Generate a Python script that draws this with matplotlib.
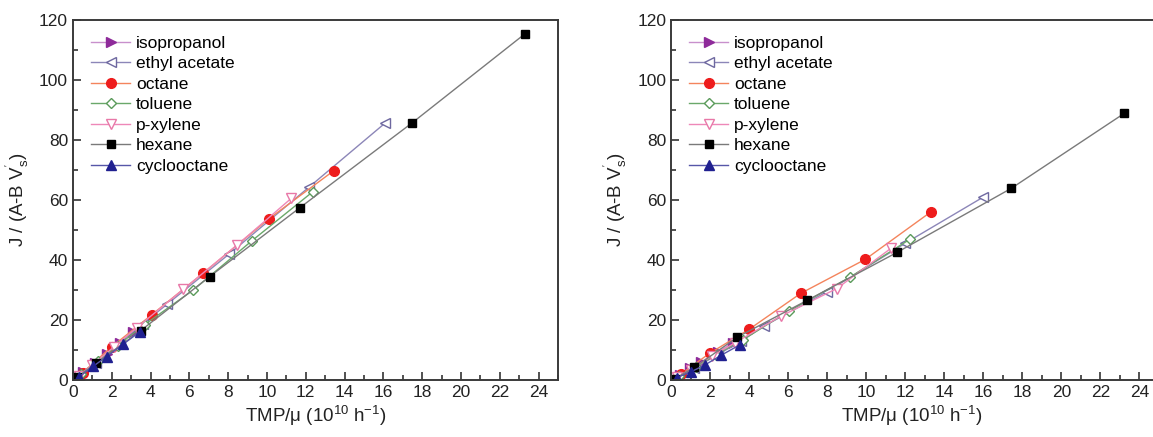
import matplotlib
matplotlib.use("Agg")
import matplotlib.pyplot as plt
from matplotlib.ticker import MultipleLocator

plt.rcParams['font.family'] = ['Liberation Sans', 'DejaVu Sans']
plt.rcParams['mathtext.fontset'] = 'custom'
plt.rcParams['mathtext.rm'] = 'Liberation Sans'
plt.rcParams['mathtext.it'] = 'Liberation Sans'

names = ['isopropanol', 'ethyl acetate', 'octane', 'toluene', 'p-xylene', 'hexane', 'cyclooctane']

# left panel
iso_x1 = [0.19, 0.53, 1.13, 1.73, 2.42, 3.1]
iso_y1 = [0.6, 2.8, 5.6, 8.7, 12.4, 16.1]
eth_x1 = [0.3, 1.2, 2.4, 3.6, 4.86, 8.05, 12.15, 16.1]
eth_y1 = [1.5, 5.8, 12.5, 18.8, 25.3, 42.0, 64.2, 85.7]
oct_x1 = [0.5, 2.0, 4.05, 6.71, 10.09, 13.45]
oct_y1 = [2.5, 11.1, 21.7, 35.6, 53.7, 69.8]
tol_x1 = [0.4, 1.3, 2.3, 3.7, 6.2, 9.22, 12.37]
tol_y1 = [2.0, 6.5, 11.5, 18.5, 30.0, 46.4, 62.8]
pxy_x1 = [0.3, 1.0, 2.1, 3.3, 5.68, 8.46, 11.26]
pxy_y1 = [1.5, 5.0, 11.0, 17.5, 30.2, 45.0, 60.6]
hex_x1 = [0.2, 1.2, 3.5, 7.05, 11.69, 17.5, 23.3]
hex_y1 = [1.0, 5.6, 16.5, 34.5, 57.4, 85.8, 115.4]
cyc_x1 = [0.3, 1.05, 1.73, 2.6, 3.45]
cyc_y1 = [1.0, 4.6, 7.8, 12.0, 16.1]

# right panel
iso_x2 = [0.1, 0.45, 0.96, 1.55, 2.41, 3.18]
iso_y2 = [0.5, 1.7, 3.9, 6.1, 9.4, 12.4]
eth_x2 = [0.3, 1.2, 2.4, 3.6, 4.77, 7.98, 12.0, 15.98]
eth_y2 = [1.0, 4.0, 8.5, 13.0, 18.0, 29.4, 45.6, 60.9]
oct_x2 = [0.5, 1.98, 4.0, 6.65, 9.95, 13.33]
oct_y2 = [2.0, 8.9, 16.9, 28.9, 40.2, 56.1]
tol_x2 = [0.4, 1.3, 2.3, 3.7, 6.07, 9.15, 12.26]
tol_y2 = [1.5, 4.5, 8.5, 13.5, 23.1, 34.2, 47.0]
pxy_x2 = [0.3, 1.0, 2.1, 3.3, 5.63, 8.5, 11.27]
pxy_y2 = [1.0, 3.5, 8.0, 12.5, 21.3, 30.5, 43.9]
hex_x2 = [0.2, 1.2, 3.4, 6.99, 11.6, 17.44, 23.23]
hex_y2 = [0.5, 4.2, 14.3, 26.6, 42.6, 63.9, 88.9]
cyc_x2 = [0.3, 1.04, 1.73, 2.58, 3.52]
cyc_y2 = [0.8, 2.8, 5.0, 8.3, 11.7]

styles = [
    dict(marker='>', color='#c890cc', mfc='#8e2a9a', mec='#8e2a9a'),
    dict(marker='<', color='#8c86b8', mfc='white', mec='#6e68a0'),
    dict(marker='o', color='#f4845c', mfc='#ee1c1c', mec='#ee1c1c'),
    dict(marker='D', color='#6aa86a', mfc='white', mec='#5a9a5a', ms=5.5),
    dict(marker='v', color='#ee88b8', mfc='white', mec='#e878a8'),
    dict(marker='s', color='#7a7a7a', mfc='black', mec='black', ms=6),
    dict(marker='^', color='#5656a8', mfc='#202090', mec='#202090'),
]

panels = [
    ([(iso_x1, iso_y1), (eth_x1, eth_y1), (oct_x1, oct_y1), (tol_x1, tol_y1),
      (pxy_x1, pxy_y1), (hex_x1, hex_y1), (cyc_x1, cyc_y1)], [0.0633, 0.1304, 0.4206, 0.8238], 25),
    ([(iso_x2, iso_y2), (eth_x2, eth_y2), (oct_x2, oct_y2), (tol_x2, tol_y2),
      (pxy_x2, pxy_y2), (hex_x2, hex_y2), (cyc_x2, cyc_y2)], [0.582, 0.1304, 0.418, 0.8238], 24.7),
]

fig = plt.figure(figsize=(11.53, 4.37), dpi=100)
for series, rect, xmax in panels:
    ax = fig.add_axes(rect)
    for (xs, ys), name, st in zip(series, names, styles):
        st = dict(st)
        ms = st.pop('ms', 7)
        ax.plot(xs, ys, lw=1.0, ms=ms, mew=1.0, label=name, **st)
    ax.set_xlim(0, xmax)
    ax.set_ylim(0, 120)
    ax.xaxis.set_major_locator(MultipleLocator(2))
    ax.xaxis.set_minor_locator(MultipleLocator(1))
    ax.yaxis.set_major_locator(MultipleLocator(20))
    ax.yaxis.set_minor_locator(MultipleLocator(10))
    ax.tick_params(which='both', direction='in', top=False, right=False,
                   color='#333333', labelsize=12.5, labelcolor='#222222')
    ax.tick_params(which='major', length=6, width=1.2)
    ax.tick_params(which='minor', length=3.5, width=1.2)
    for sp in ax.spines.values():
        sp.set_color('#3a3a3a')
        sp.set_linewidth(1.4)
    ax.set_xlabel(r'TMP/μ (10$^{10}$ h$^{-1}$)', fontsize=13.5, color='#222222', labelpad=3)
    ax.set_ylabel(r"J / (A-B V$_s^{'}$)", fontsize=13.5, color='#222222', labelpad=6)
    ax.legend(loc='upper left', frameon=False, fontsize=12.5, handlelength=2.25,
              handletextpad=0.35, labelspacing=0.31, borderaxespad=0.5,
              bbox_to_anchor=(0.005, 1.0))
    if xmax < 25:
        ax.spines['right'].set_visible(False)

fig.savefig('out.png', dpi=100)
